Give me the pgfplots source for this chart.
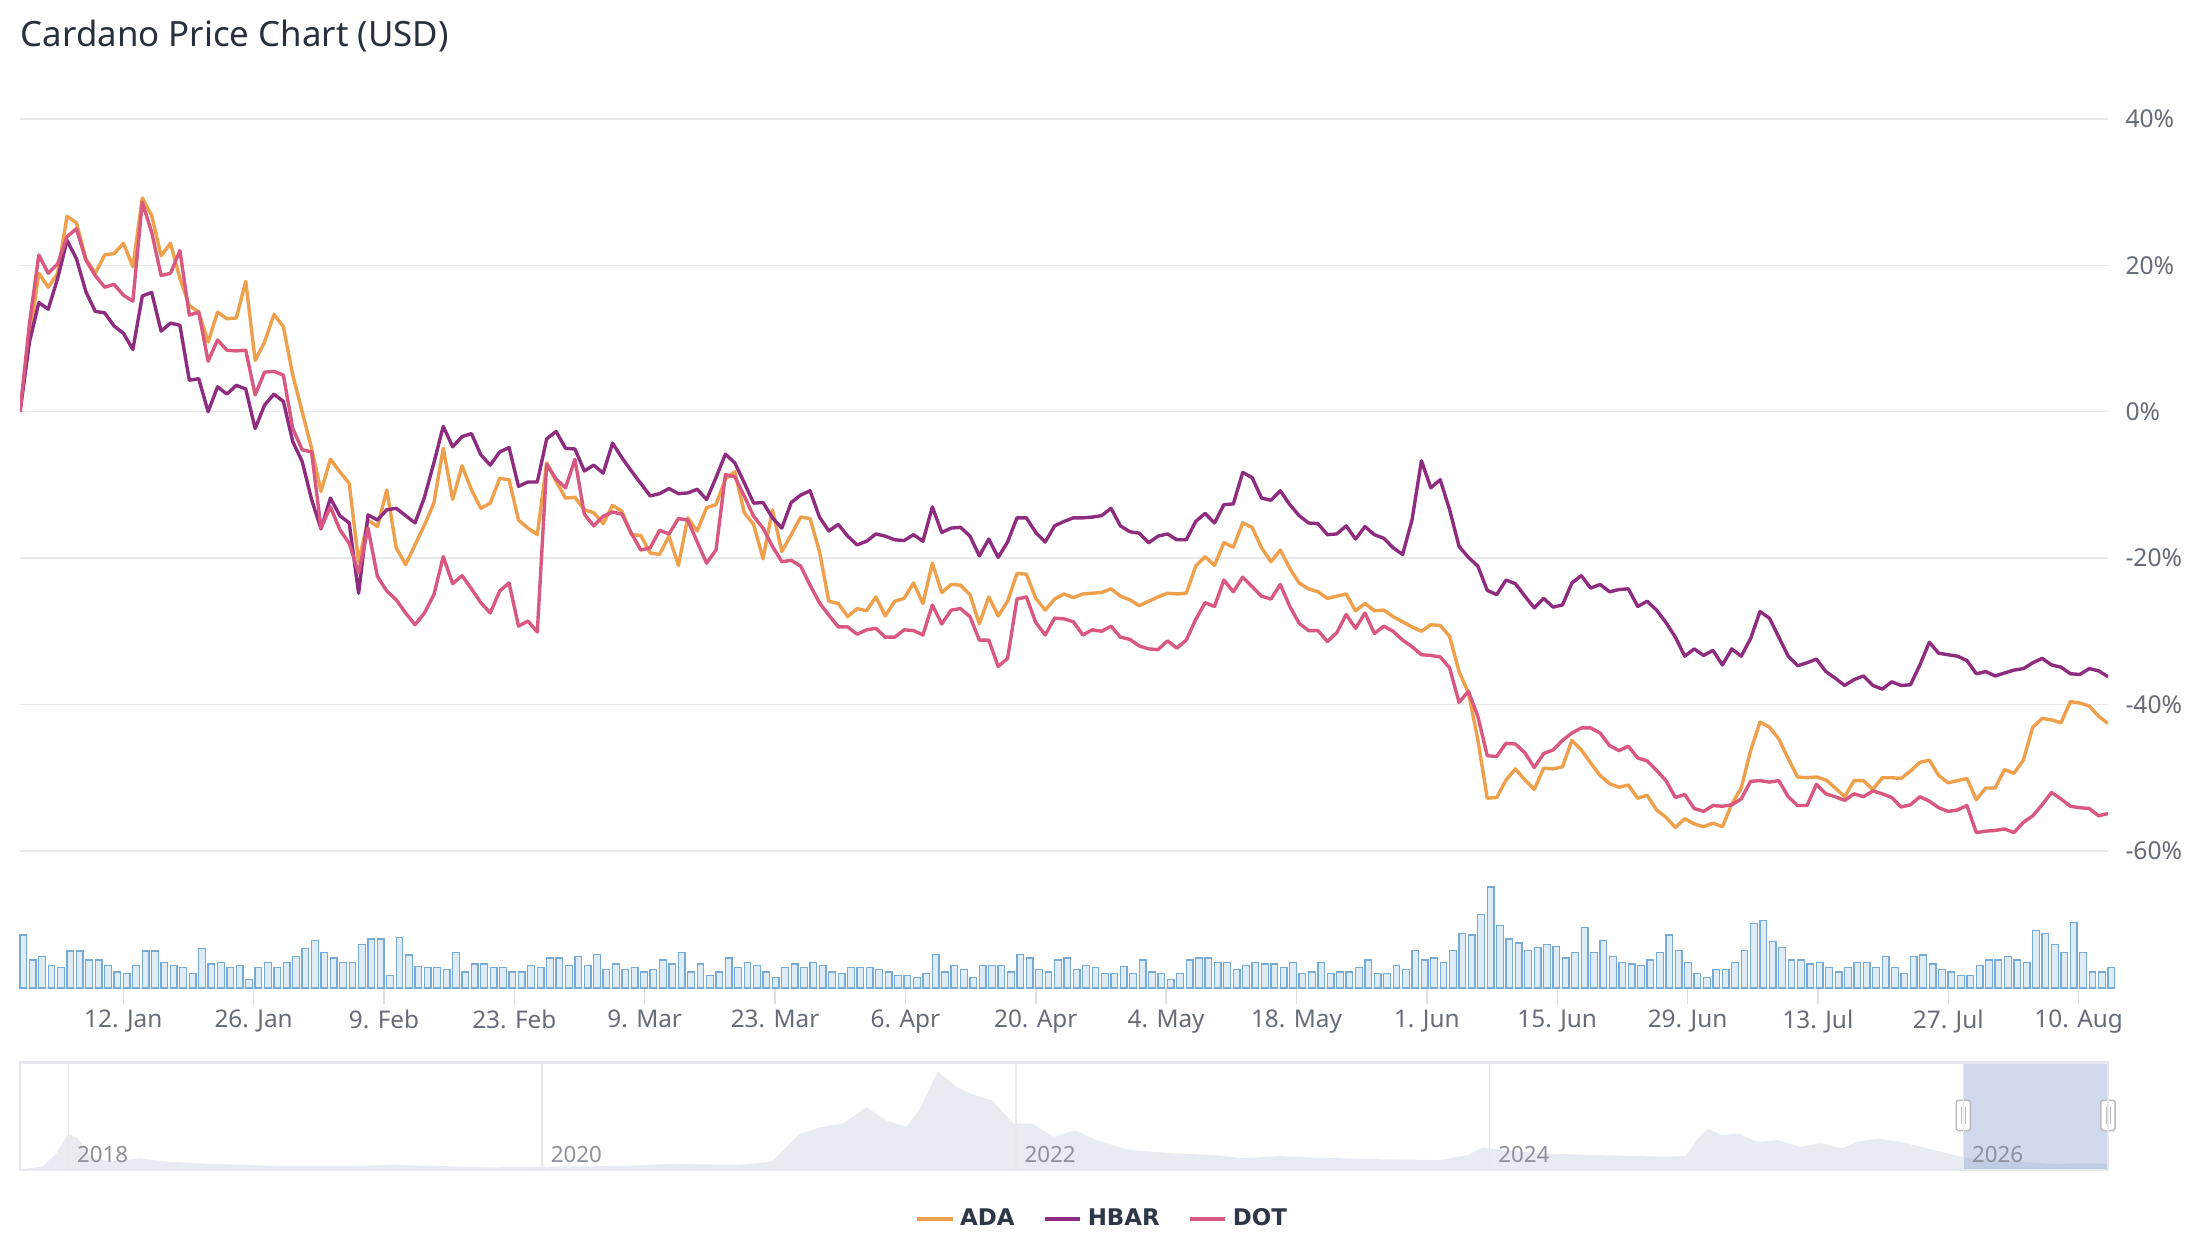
\documentclass[border=0pt]{standalone}
\usepackage{fontspec}
\setmainfont{Noto Sans}
\newfontfamily\legfont{DejaVu Sans}
\usepackage{pgfplots}
\usepackage{pgfplotstable}
\pgfplotsset{compat=1.18}

\definecolor{ada}{RGB}{238,160,76}
\definecolor{hbar}{RGB}{142,45,128}
\definecolor{dot}{RGB}{216,88,128}
\definecolor{gridc}{RGB}{232,232,232}
\definecolor{lbl}{RGB}{102,108,120}
\definecolor{ttl}{RGB}{40,48,62}
\definecolor{legtxt}{RGB}{45,55,72}
\definecolor{volfill}{RGB}{222,236,248}
\definecolor{voldraw}{RGB}{120,170,214}
\definecolor{navfill}{RGB}{232,236,242}
\definecolor{navline}{RGB}{230,232,236}
\definecolor{maskc}{RGB}{102,133,194}
\definecolor{yearc}{RGB}{140,145,155}

\pgfplotstableread{
d ada hbar dot vol
0 0 0 0 165
1 10 9.5 12 87
2 18.9 14.9 21.4 98
3 17 14 18.9 69
4 18.9 18.2 20.2 63
5 26.7 23.4 23.9 115
6 25.8 20.9 25 115
7 20.9 16.4 20.7 87
8 18.9 13.7 18.6 87
9 21.4 13.5 17 69
10 21.6 11.7 17.4 50
11 23 10.7 15.9 45
12 19.8 8.5 15.1 69
13 29.2 15.8 28.6 115
14 26.8 16.3 24.5 115
15 21.3 11 18.6 80
16 23 12.1 18.9 69
17 18.2 11.8 22 63
18 14.5 4.3 13.2 45
19 13.6 4.5 13.6 123
20 9.5 0 6.9 75
21 13.6 3.4 9.8 80
22 12.7 2.4 8.4 63
23 12.8 3.6 8.3 69
24 17.8 3.1 8.4 27
25 7 -2.3 2.3 63
26 9.5 0.9 5.4 80
27 13.3 2.4 5.5 63
28 11.6 1.4 5 80
29 5 -4.1 -2.3 98
30 0 -6.8 -5.2 123
31 -5 -12 -5.5 147
32 -10.9 -16 -15.9 110
33 -6.5 -11.8 -13 93
34 -8.2 -14.2 -16.1 80
35 -9.8 -15.2 -18 80
36 -20.5 -24.8 -22 135
37 -14.8 -14.1 -15.9 153
38 -15.7 -14.8 -22.5 153
39 -10.7 -13.4 -24.5 38
40 -18.6 -13.2 -25.7 158
41 -20.9 -14.2 -27.5 103
42 -18.2 -15.2 -29.1 67
43 -15.5 -11.7 -27.5 63
44 -12.5 -7 -25 63
45 -5 -2 -19.8 57
46 -12 -4.8 -23.5 110
47 -7.4 -3.4 -22.4 50
48 -10.7 -3 -24.2 75
49 -13.2 -5.9 -26.1 75
50 -12.5 -7.3 -27.5 63
51 -9.1 -5.5 -24.5 63
52 -9.3 -4.9 -23.4 50
53 -14.8 -10.2 -29.3 50
54 -15.9 -9.6 -28.6 69
55 -16.8 -9.6 -30.1 63
56 -7 -3.7 -7.2 93
57 -9.5 -2.7 -9.2 93
58 -11.8 -5 -10.4 69
59 -11.7 -5.1 -6.5 98
60 -13.4 -8.1 -14 69
61 -13.8 -7.3 -15.6 105
62 -15.3 -8.4 -14.3 57
63 -12.8 -4.3 -13.7 75
64 -13.6 -6.3 -14 57
65 -16.8 -8.1 -16.6 63
66 -16.9 -9.8 -18.9 50
67 -19.3 -11.5 -18.6 57
68 -19.5 -11.2 -16.2 87
69 -17 -10.5 -16.7 75
70 -21 -11.2 -14.6 110
71 -14.5 -11.1 -14.8 50
72 -16.3 -10.6 -17.8 75
73 -13.1 -12 -20.7 38
74 -12.7 -9 -18.9 50
75 -9.2 -5.8 -8.6 93
76 -8.2 -7 -8.9 63
77 -13.8 -9.7 -11.5 80
78 -15.4 -12.5 -14.3 69
79 -20.1 -12.4 -15.9 50
80 -13.4 -14.5 -18.4 33
81 -19.1 -15.9 -20.5 63
82 -16.8 -12.4 -20.3 75
83 -14.4 -11.4 -21.1 63
84 -14.6 -10.8 -23.7 80
85 -19.1 -14.4 -26.1 69
86 -25.9 -16.3 -27.8 50
87 -26.2 -15.4 -29.4 45
88 -28 -17 -29.4 63
89 -26.9 -18.2 -30.4 63
90 -27.2 -17.7 -29.8 63
91 -25.3 -16.7 -29.6 57
92 -27.9 -17 -30.8 50
93 -25.9 -17.5 -30.8 38
94 -25.5 -17.6 -29.8 38
95 -23.4 -16.8 -29.9 33
96 -26.2 -17.7 -30.5 45
97 -20.7 -13 -26.4 105
98 -24.7 -16.5 -29 50
99 -23.6 -15.9 -27.1 69
100 -23.7 -15.8 -26.9 57
101 -25 -17 -28 33
102 -29 -19.7 -31.2 69
103 -25.3 -17.4 -31.2 69
104 -27.9 -19.9 -34.8 69
105 -25.9 -17.8 -33.7 50
106 -22.1 -14.5 -25.6 105
107 -22.2 -14.5 -25.3 93
108 -25.5 -16.5 -28.8 57
109 -27.1 -17.8 -30.5 50
110 -25.6 -15.6 -28.2 87
111 -24.9 -15 -28.3 93
112 -25.4 -14.5 -28.7 57
113 -24.9 -14.5 -30.5 69
114 -24.8 -14.4 -29.8 63
115 -24.7 -14.2 -30 45
116 -24.2 -13.2 -29.3 45
117 -25.2 -15.6 -30.8 67
118 -25.7 -16.4 -31.1 45
119 -26.5 -16.6 -32 87
120 -25.9 -17.9 -32.4 50
121 -25.3 -17 -32.5 45
122 -24.8 -16.7 -31.3 27
123 -24.9 -17.5 -32.3 45
124 -24.8 -17.5 -31.2 87
125 -21.1 -15 -28.4 93
126 -19.8 -13.9 -26.1 93
127 -21 -15.2 -26.6 80
128 -17.9 -12.7 -23 80
129 -18.5 -12.6 -24.6 57
130 -15.2 -8.3 -22.6 69
131 -15.8 -9 -23.9 80
132 -18.6 -11.8 -25.2 75
133 -20.5 -12.1 -25.6 75
134 -18.9 -10.8 -23.6 63
135 -21.4 -12.7 -26.6 80
136 -23.4 -14.2 -28.9 45
137 -24.2 -15.2 -29.9 50
138 -24.6 -15.3 -29.9 80
139 -25.5 -16.8 -31.4 45
140 -25.2 -16.7 -30.2 50
141 -24.9 -15.6 -27.7 50
142 -27.2 -17.4 -29.6 63
143 -26.2 -15.7 -27.5 87
144 -27.2 -16.8 -30.3 45
145 -27.1 -17.3 -29.3 45
146 -28 -18.6 -30 69
147 -28.7 -19.5 -31.2 57
148 -29.4 -14.8 -32.1 117
149 -30 -6.7 -33.2 87
150 -29.1 -10.4 -33.3 93
151 -29.2 -9.3 -33.5 80
152 -30.7 -13.4 -35 117
153 -35.5 -18.4 -39.7 170
154 -38.4 -19.9 -38.2 165
155 -44.8 -21.1 -41.6 230
156 -52.8 -24.4 -47 315
157 -52.7 -25 -47.1 195
158 -50.3 -23 -45.3 153
159 -48.8 -23.5 -45.4 140
160 -50.3 -25.2 -46.6 117
161 -51.6 -26.8 -48.6 127
162 -48.7 -25.5 -46.7 135
163 -48.8 -26.7 -46.2 130
164 -48.5 -26.4 -44.9 93
165 -44.9 -23.4 -43.9 110
166 -46.2 -22.4 -43.2 189
167 -48 -24.1 -43.2 110
168 -49.7 -23.6 -43.9 147
169 -50.8 -24.6 -45.6 97
170 -51.3 -24.3 -46.3 80
171 -51 -24.2 -45.7 75
172 -52.8 -26.6 -47.3 69
173 -52.4 -25.9 -47.7 87
174 -54.4 -27.1 -49 110
175 -55.4 -28.8 -50.4 165
176 -56.8 -30.8 -52.7 117
177 -55.6 -33.4 -52.3 80
178 -56.3 -32.4 -54.2 45
179 -56.7 -33.3 -54.6 33
180 -56.2 -32.6 -53.8 57
181 -56.7 -34.6 -53.9 57
182 -53.6 -32.4 -53.7 80
183 -51.4 -33.4 -52.9 117
184 -46.3 -31 -50.5 200
185 -42.4 -27.3 -50.4 210
186 -43.1 -28.2 -50.6 145
187 -44.7 -30.8 -50.4 127
188 -47.4 -33.4 -52.6 87
189 -49.9 -34.7 -53.8 87
190 -50 -34.3 -53.8 75
191 -49.9 -33.8 -50.9 80
192 -50.3 -35.5 -52.2 63
193 -51.4 -36.4 -52.6 50
194 -52.6 -37.4 -53.1 63
195 -50.4 -36.6 -52.2 80
196 -50.4 -36.1 -52.6 80
197 -51.6 -37.4 -51.8 63
198 -50 -37.9 -52.2 98
199 -50 -36.9 -52.7 63
200 -50.1 -37.4 -54 45
201 -49.1 -37.3 -53.7 98
202 -47.9 -34.6 -52.6 103
203 -47.6 -31.5 -53.2 75
204 -49.7 -33 -54.1 57
205 -50.7 -33.2 -54.6 50
206 -50.4 -33.4 -54.4 38
207 -50.1 -34 -53.8 38
208 -53 -35.8 -57.5 69
209 -51.4 -35.5 -57.3 87
210 -51.4 -36.1 -57.2 87
211 -48.9 -35.7 -57 98
212 -49.4 -35.3 -57.5 87
213 -47.6 -35.1 -56.1 80
214 -43.1 -34.3 -55.2 180
215 -41.9 -33.7 -53.7 170
216 -42.1 -34.6 -52 135
217 -42.5 -34.9 -52.9 110
218 -39.6 -35.8 -53.9 205
219 -39.8 -35.9 -54.1 110
220 -40.2 -35.1 -54.2 50
221 -41.6 -35.4 -55.2 50
222 -42.6 -36.2 -54.9 63
}\pricedata

\pgfplotstableread{
yr h
2017.796 0
2017.8 0.5
2017.89 2.3
2017.95 11.6
2018.0 25.4
2018.04 21.9
2018.1 8.1
2018.18 5.8
2018.3 8.1
2018.42 5.8
2018.6 4.2
2018.9 2.8
2019.2 2.8
2019.37 3.5
2019.55 2.8
2019.78 1.8
2020.08 2.3
2020.38 3
2020.55 4.2
2020.82 3.5
2020.97 5.8
2021.09 25.4
2021.18 30
2021.27 32.3
2021.37 43.9
2021.45 34.7
2021.54 30
2021.6 43.9
2021.67 68.8
2021.75 57.7
2021.81 53.1
2021.9 48.5
2021.99 32.3
2022.07 32.3
2022.16 23.1
2022.25 27.7
2022.34 20.8
2022.48 13.9
2022.66 11.6
2022.84 10.4
2022.96 8.1
2023.11 9.7
2023.26 8.6
2023.55 7.4
2023.79 6.9
2023.91 10.4
2023.97 15.7
2024.06 13.9
2024.21 11.6
2024.45 10.4
2024.74 9.2
2024.83 9.7
2024.88 21.9
2024.92 28.9
2024.98 24.3
2025.05 25.4
2025.13 19.6
2025.22 20.8
2025.31 16.2
2025.4 18.5
2025.49 15
2025.55 19.6
2025.64 21.9
2025.73 19.6
2025.82 16.2
2025.93 11.6
2026.02 8.1
2026.23 5.8
2026.38 4.2
2026.53 4.6
2026.611 4.2
}\navdata

\begin{document}
\begin{tikzpicture}
\path[use as bounding box] (0pt,0pt) rectangle (780pt,441pt);
\fill[white] (0pt,0pt) rectangle (780pt,441pt);
\node[anchor=west, inner sep=0pt, font=\fontsize{12.3}{14}\selectfont, text=ttl] at (7.2pt,428.3pt) {Cardano Price Chart (USD)};

% price panel
\begin{axis}[at={(7.07pt,140.4pt)}, anchor=south west, scale only axis,
  width=737.6pt, height=258.6pt,
  xmin=0, xmax=222, ymin=-60, ymax=40,
  axis line style={draw=none},
  xtick=\empty,
  ytick={-60,-40,-20,0,20,40},
  yticklabels={-60\%,-40\%,-20\%,0\%,20\%,40\%},
  yticklabel pos=right,
  ymajorgrids, grid style={gridc, line width=0.5pt},
  major tick length=0pt,
  yticklabel style={anchor=west, inner sep=0pt, xshift=6pt, font=\fontsize{8.7}{10}\selectfont, text=lbl},
  legend style={at={(0.5192,-0.5031)}, anchor=center, draw=none, fill=none,
    legend columns=3, font=\legfont\bfseries\fontsize{8.1}{11}\selectfont, text=legtxt,
    /tikz/every even column/.append style={column sep=8pt}},
  legend image code/.code={\draw[line width=1.3pt] (0pt,0pt) -- (12.5pt,0pt);},
]
\addplot[ada, line width=1.2pt, line join=round] table[x=d,y=ada]{\pricedata};
\addlegendentry{ADA}
\addplot[hbar, line width=1.2pt, line join=round] table[x=d,y=hbar]{\pricedata};
\addlegendentry{HBAR}
\addplot[dot, line width=1.2pt, line join=round] table[x=d,y=dot]{\pricedata};
\addlegendentry{DOT}
\end{axis}

% volume panel
\begin{axis}[at={(7.07pt,92.0pt)}, anchor=south west, scale only axis,
  width=737.6pt, height=36.1pt,
  xmin=0, xmax=222, ymin=0, ymax=319,
  clip=false,
  axis x line*=bottom, axis y line=none,
  x axis line style={draw=gray!25, line width=0.5pt},
  xtick={10.98,24.84,38.70,52.56,66.42,80.28,94.14,108.0,121.86,135.72,149.58,163.44,177.30,191.16,205.02,218.88},
  xticklabels={12. Jan,26. Jan,9. Feb,23. Feb,9. Mar,23. Mar,6. Apr,20. Apr,4. May,18. May,1. Jun,15. Jun,29. Jun,13. Jul,27. Jul,10. Aug},
  tick align=outside, major tick length=5.6pt,
  xtick style={draw=gray!25, line width=0.5pt},
  xticklabel style={font=\fontsize{8.6}{10}\selectfont, text=lbl, inner sep=0pt, anchor=north, yshift=-2pt},
]
\addplot[ybar, bar width=0.71, bar shift=0.35, fill=volfill, draw=voldraw, line width=0.45pt] table[x=d,y=vol]{\pricedata};
\end{axis}

% navigator
\begin{axis}[at={(7.07pt,27.7pt)}, anchor=south west, scale only axis,
  width=737.6pt, height=38pt,
  xmin=2017.796, xmax=2026.611, ymin=0, ymax=75,
  clip=false, axis on top,
  axis line style={draw=navline, line width=1pt},
  ytick=\empty,
  xtick={2018,2020,2022,2024,2026},
  xticklabels={2018,2020,2022,2024,2026},
  xmajorgrids, grid style={draw=gridc, line width=0.5pt},
  major tick length=0pt,
  xticklabel style={anchor=base west, inner sep=0pt, xshift=2.9pt, yshift=2.6pt, font=\fontsize{7.9}{10}\selectfont, text=yearc},
]
\addplot[fill=navfill, draw=none] table[x=yr,y=h]{\navdata} \closedcycle;
\fill[maskc, fill opacity=0.3] (axis cs:2026,0) rectangle (axis cs:2026.611,75);
\node[draw=gray!55, fill=white, rounded corners=0.6pt, minimum width=5pt, minimum height=10.7pt, inner sep=0pt, line width=0.5pt] (h1) at (axis cs:2026,38) {};
\node[draw=gray!55, fill=white, rounded corners=0.6pt, minimum width=5pt, minimum height=10.7pt, inner sep=0pt, line width=0.5pt] (h2) at (axis cs:2026.611,38) {};
\draw[gray!55, line width=0.35pt] ([xshift=-0.7pt,yshift=2.5pt]h1.south) -- ([xshift=-0.7pt,yshift=-2.5pt]h1.north);
\draw[gray!55, line width=0.35pt] ([xshift=0.7pt,yshift=2.5pt]h1.south) -- ([xshift=0.7pt,yshift=-2.5pt]h1.north);
\draw[gray!55, line width=0.35pt] ([xshift=-0.7pt,yshift=2.5pt]h2.south) -- ([xshift=-0.7pt,yshift=-2.5pt]h2.north);
\draw[gray!55, line width=0.35pt] ([xshift=0.7pt,yshift=2.5pt]h2.south) -- ([xshift=0.7pt,yshift=-2.5pt]h2.north);
\end{axis}
\end{tikzpicture}
\end{document}
